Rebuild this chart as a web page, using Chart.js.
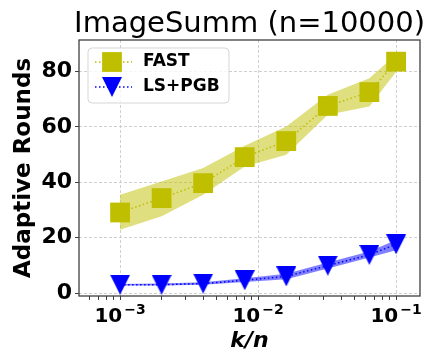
<!DOCTYPE html>
<html>
<head>
<meta charset="utf-8">
<script src="https://cdn.jsdelivr.net/npm/chart.js@4.4.1/dist/chart.umd.min.js"></script>
<style>
  html, body { margin: 0; padding: 0; background: #fff; }
  canvas { display: block; }
</style>
</head>
<body>
<canvas id="roundsChart" width="434" height="352"></canvas>
<script>
// k/n values (log x axis)
const kOverN = [0.001, 0.002, 0.004, 0.008, 0.016, 0.032, 0.064, 0.1];

// FAST: mean and shaded band
const fastMean = [29.1, 34.3, 39.7, 49.1, 54.9, 67.6, 72.6, 83.6];
const fastLow = [22.9, 27.7, 35.5, 45.7, 50.0, 64.4, 67.4, 79.9];
const fastHigh = [35.5, 40.3, 45.2, 53.2, 60.2, 71.6, 77.6, 86.2];

// LS+PGB: mean and shaded band
const lsMean = [3.0, 3.0, 3.4, 4.6, 6.0, 9.9, 13.8, 17.6];
const lsLow = [2.7, 2.7, 3.0, 4.0, 5.0, 8.9, 12.8, 15.5];
const lsHigh = [3.3, 3.4, 3.9, 5.3, 7.0, 11.0, 15.0, 19.2];

// axis ticks
const yTicks = [0, 20, 40, 60, 80];
const xMajorTicks = [0.001, 0.01, 0.1];
const xTickBase = "10";
const xTickExponents = ["\u22123", "\u22122", "\u22121"];

const X_MIN = 5.04e-4;
const X_MAX = 0.149;

const OLIVE = "#bfbf00";
const BLUE = "#0000ff";
const GRID = "#c4c4c4";
const FRAME = "#404040";

Chart.defaults.font.family = "'DejaVu Sans'";
Chart.defaults.color = "#000";

// minor ticks at 2..9 x each decade, kept inside the axis range
const xAllTicks = [];
[0.0001, 0.001, 0.01, 0.1].forEach(decade => {
  for (let m = 1; m < 10; m++) {
    const v = +(decade * m).toPrecision(2);
    if (v >= X_MIN && v <= X_MAX) xAllTicks.push(v);
  }
});

const toPoints = ys => kOverN.map((x, i) => ({ x, y: ys[i] }));

// matplotlib-style "v" marker, centred on its bounding box
function downTriangle(size, color) {
  const c = document.createElement("canvas");
  c.width = size;
  c.height = size;
  const g = c.getContext("2d");
  g.fillStyle = color;
  g.beginPath();
  g.moveTo(0, 0);
  g.lineTo(size, 0);
  g.lineTo(size / 2, size);
  g.closePath();
  g.fill();
  return c;
}

const frame = {
  id: "frame",
  afterDatasetsDraw(chart) {
    const { ctx, chartArea: a } = chart;
    ctx.save();
    ctx.strokeStyle = FRAME;
    ctx.lineWidth = 1.3;
    ctx.strokeRect(a.left, a.top, a.right - a.left, a.bottom - a.top);
    ctx.restore();
  }
};

const legendBox = {
  id: "legendBox",
  afterDatasetsDraw(chart) {
    const { ctx, chartArea } = chart;
    const x = chartArea.left + 9, y = chartArea.top + 8;
    ctx.save();
    ctx.beginPath();
    ctx.roundRect(x, y, 141, 55, 4);
    ctx.fillStyle = "rgba(255,255,255,0.8)";
    ctx.fill();
    ctx.strokeStyle = "rgba(204,204,204,0.8)";
    ctx.lineWidth = 1;
    ctx.stroke();
    chart.data.datasets.filter(ds => ds.label).forEach((ds, i) => {
      const cy = y + 14 + i * 25;
      ctx.setLineDash(ds.borderDash);
      ctx.strokeStyle = ds.borderColor;
      ctx.lineWidth = ds.borderWidth;
      ctx.beginPath();
      ctx.moveTo(x + 7, cy);
      ctx.lineTo(x + 44, cy);
      ctx.stroke();
      ctx.setLineDash([]);
      ctx.fillStyle = ds.pointBackgroundColor;
      Chart.helpers.drawPoint(ctx, { pointStyle: ds.pointStyle, radius: ds.pointRadius, rotation: 0, borderWidth: 0 }, x + 24, cy);
      ctx.fillStyle = "#000";
      ctx.font = "bold 17px 'DejaVu Sans'";
      ctx.textBaseline = "middle";
      ctx.textAlign = "left";
      ctx.fillText(ds.label, x + 55, cy);
    });
    ctx.restore();
  }
};

// 10^k labels under the major x ticks
const powerTicks = {
  id: "powerTicks",
  afterDraw(chart) {
    const { ctx, scales: { x } } = chart;
    ctx.save();
    ctx.fillStyle = "#000";
    ctx.textAlign = "left";
    ctx.textBaseline = "alphabetic";
    xMajorTicks.forEach((v, i) => {
      const px = x.getPixelForValue(v);
      ctx.font = "bold 20px 'DejaVu Sans'";
      const wBase = ctx.measureText(xTickBase).width;
      ctx.font = "bold 14px 'DejaVu Sans'";
      const wExp = ctx.measureText(xTickExponents[i]).width + 2;
      const left = px - (wBase + wExp) / 2;
      ctx.font = "bold 20px 'DejaVu Sans'";
      ctx.fillText(xTickBase, left, x.top + 26);
      ctx.font = "bold 14px 'DejaVu Sans'";
      ctx.fillText(xTickExponents[i], left + wBase + 2, x.top + 18);
    });
    ctx.restore();
  }
};

const bandStyle = { pointRadius: 0, borderWidth: 0, pointHoverRadius: 0 };

new Chart(document.getElementById("roundsChart"), {
  type: "line",
  data: {
    datasets: [
      {
        label: "FAST",
        data: toPoints(fastMean),
        borderColor: OLIVE,
        borderWidth: 1.5,
        borderDash: [1.5, 2.5],
        pointStyle: "rect",
        pointRadius: 14,
        pointBorderWidth: 0,
        pointBackgroundColor: OLIVE,
        fill: false
      },
      {
        label: "LS+PGB",
        data: toPoints(lsMean),
        borderColor: BLUE,
        borderWidth: 1.5,
        borderDash: [1.5, 2.5],
        pointStyle: downTriangle(20, BLUE),
        pointRadius: 10,
        pointBorderWidth: 0,
        pointBackgroundColor: BLUE,
        fill: false
      },
      { data: toPoints(fastHigh), ...bandStyle, fill: false },
      { data: toPoints(fastLow), ...bandStyle, fill: "-1", backgroundColor: "rgba(191,191,0,0.5)" },
      { data: toPoints(lsHigh), ...bandStyle, fill: false },
      { data: toPoints(lsLow), ...bandStyle, fill: "-1", backgroundColor: "rgba(0,0,255,0.5)" }
    ]
  },
  options: {
    responsive: false,
    animation: false,
    devicePixelRatio: 1,
    layout: { padding: { left: 0, right: 9, top: 0, bottom: 0 } },
    plugins: {
      legend: { display: false },
      tooltip: { enabled: false },
      title: {
        display: true,
        text: "ImageSumm (n=10000)",
        align: "end",
        font: { size: 29, weight: "normal", lineHeight: 1 },
        padding: { top: 10, bottom: 1 },
        color: "#000"
      }
    },
    scales: {
      x: {
        type: "logarithmic",
        min: X_MIN,
        max: X_MAX,
        afterBuildTicks: s => { s.ticks = xAllTicks.map(v => ({ value: v })); },
        afterFit: s => { s.height = 56; },
        ticks: { display: false, autoSkip: false },
        grid: {
          color: c => (c.tick && xMajorTicks.includes(c.tick.value) ? GRID : "transparent"),
          lineWidth: 0.8,
          tickColor: FRAME,
          tickLength: 4,
          tickWidth: 1
        },
        border: { display: false, dash: [3, 2] },
        title: {
          display: true,
          text: "k/n",
          font: { size: 22, weight: "bold", style: "italic", lineHeight: 1 },
          padding: 0
        }
      },
      y: {
        min: -1.08,
        max: 91.43,
        afterBuildTicks: s => { s.ticks = yTicks.map(v => ({ value: v })); },
        afterFit: s => { s.width = 79; },
        ticks: { font: { size: 22, weight: "bold" }, padding: 3 },
        grid: { color: GRID, lineWidth: 0.8, tickColor: FRAME, tickLength: 4, tickWidth: 1 },
        border: { display: false, dash: [3, 2] },
        title: {
          display: true,
          text: "Adaptive Rounds",
          font: { size: 23, weight: "bold" },
          padding: { top: 10 }
        }
      }
    }
  },
  plugins: [frame, legendBox, powerTicks]
});
</script>
</body>
</html>
